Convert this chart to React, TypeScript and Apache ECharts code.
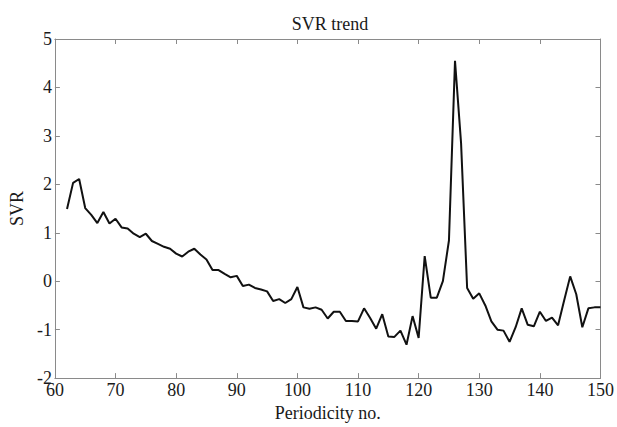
import React, { useEffect, useRef } from "react";
import * as echarts from "echarts";

const periodicity: number[] = [];
for (let p = 62; p <= 150; p++) periodicity.push(p);

const svr: number[] = [
  1.49, 2.03, 2.11, 1.51, 1.37, 1.2, 1.43, 1.19, 1.29, 1.11,
  1.09, 0.98, 0.91, 0.98, 0.83, 0.77, 0.71, 0.67, 0.57, 0.51,
  0.61, 0.67, 0.55, 0.45, 0.23, 0.23, 0.15, 0.08, 0.11, -0.1,
  -0.07, -0.14, -0.17, -0.21, -0.41, -0.37, -0.45, -0.37, -0.12, -0.54,
  -0.57, -0.54, -0.59, -0.77, -0.63, -0.63, -0.82, -0.82, -0.83, -0.56,
  -0.76, -0.98, -0.68, -1.14, -1.15, -1.02, -1.31, -0.72, -1.17, 0.52,
  -0.34, -0.34, 0.0, 0.84, 4.55, 2.85, -0.14, -0.36, -0.25, -0.5,
  -0.83, -1.0, -1.02, -1.25, -0.95, -0.56, -0.9, -0.93, -0.63, -0.82,
  -0.75, -0.91, -0.4, 0.1, -0.27, -0.95, -0.56, -0.54, -0.54,
];

const xTicks = { min: 60, max: 150, interval: 10 };
const yTicks = { min: -2, max: 5, interval: 1 };

const FONT = "Liberation Serif";
const AXIS_COLOR = "#8a8a8a";
const TEXT_COLOR = "#1a1a1a";

export default function App() {
  const ref = useRef<HTMLDivElement>(null);
  useEffect(() => {
    if (!ref.current) return;
    const chart = echarts.init(ref.current, undefined, { renderer: "svg" });
    const axisLine = { show: true, onZero: false, lineStyle: { color: AXIS_COLOR, width: 1 } };
    const axisTick = { show: true, inside: true, length: 5, lineStyle: { color: AXIS_COLOR } };
    chart.setOption({
      animation: false,
      backgroundColor: "#ffffff",
      textStyle: { fontFamily: FONT, fontSize: 17, color: TEXT_COLOR },
      title: {
        text: "SVR trend",
        left: 325,
        top: 10,
        textAlign: "center",
        textStyle: { fontFamily: FONT, fontSize: 18, fontWeight: "normal", color: TEXT_COLOR },
      },
      grid: { left: 46, right: 15, top: 39, bottom: 38 },
      xAxis: [
        {
          type: "value",
          position: "bottom",
          min: xTicks.min,
          max: xTicks.max,
          interval: xTicks.interval,
          axisLine,
          axisTick,
          splitLine: { show: false },
          axisLabel: { fontFamily: FONT, fontSize: 18, color: TEXT_COLOR, margin: 3 },
          name: "Periodicity no.",
          nameLocation: "middle",
          nameGap: 17,
          nameTextStyle: { fontFamily: FONT, fontSize: 18, color: TEXT_COLOR, verticalAlign: "top" },
        },
        {
          type: "value",
          position: "top",
          min: xTicks.min,
          max: xTicks.max,
          interval: xTicks.interval,
          axisLine,
          axisTick,
          splitLine: { show: false },
          axisLabel: { show: false },
        },
      ],
      yAxis: [
        {
          type: "value",
          position: "left",
          min: yTicks.min,
          max: yTicks.max,
          interval: yTicks.interval,
          axisLine,
          axisTick,
          splitLine: { show: false },
          axisLabel: { fontFamily: FONT, fontSize: 18, color: TEXT_COLOR, margin: 3 },
          name: "SVR",
          nameLocation: "middle",
          nameGap: 27,
          nameTextStyle: { fontFamily: FONT, fontSize: 18, color: TEXT_COLOR },
        },
        {
          type: "value",
          position: "right",
          min: yTicks.min,
          max: yTicks.max,
          interval: yTicks.interval,
          axisLine,
          axisTick,
          splitLine: { show: false },
          axisLabel: { show: false },
        },
      ],
      series: [
        {
          type: "line",
          data: periodicity.map((p, i) => [p, svr[i]]),
          showSymbol: false,
          lineStyle: { color: "#111", width: 2 },
          xAxisIndex: 0,
          yAxisIndex: 0,
        },
      ],
    });
    return () => chart.dispose();
  }, []);
  return <div ref={ref} style={{ width: 617, height: 427, position: "fixed", left: 0, top: 0 }} />;
}
